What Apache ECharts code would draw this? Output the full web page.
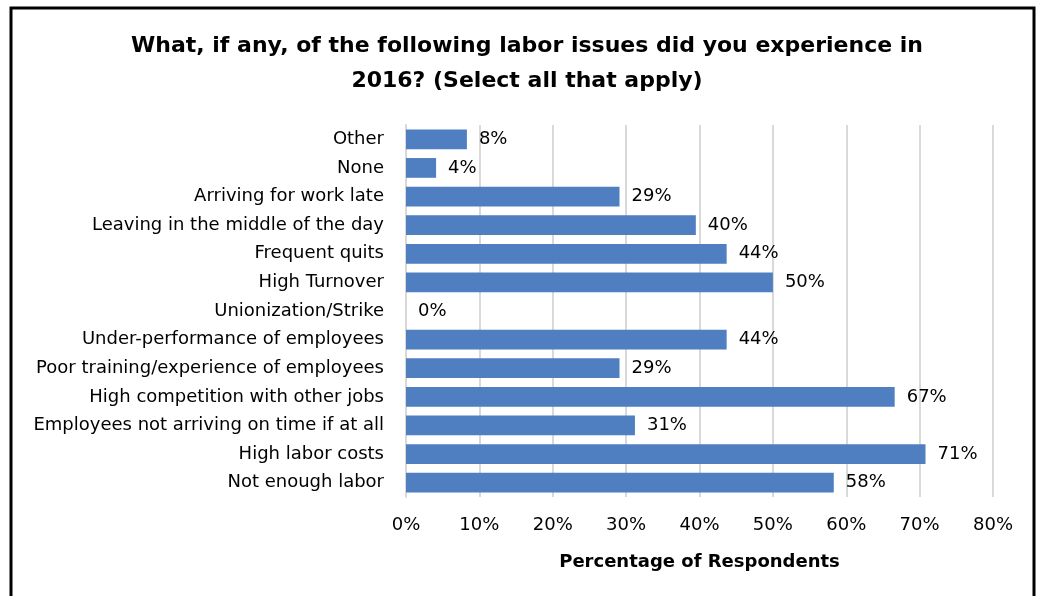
<!DOCTYPE html>
<html>
<head>
<meta charset="utf-8">
<script src="https://cdn.jsdelivr.net/npm/echarts@6/dist/echarts.min.js"></script>
<style>
html,body{margin:0;padding:0;background:#fff;}
#chart{width:1041px;height:596px;}
</style>
</head>
<body>
<div id="chart"></div>
<script>
var categories = [
  "Other",
  "None",
  "Arriving for work late",
  "Leaving in the middle of the day",
  "Frequent quits",
  "High Turnover",
  "Unionization/Strike",
  "Under-performance of employees",
  "Poor training/experience of employees",
  "High competition with other jobs",
  "Employees not arriving on time if at all",
  "High labor costs",
  "Not enough labor"
];
var values = [8.3, 4.1, 29.1, 39.5, 43.7, 50.0, 0, 43.7, 29.1, 66.6, 31.2, 70.8, 58.3];
var xTicks = [0, 10, 20, 30, 40, 50, 60, 70, 80];

var chart = echarts.init(document.getElementById('chart'));
var font = '"DejaVu Sans", sans-serif';
chart.setOption({
  animation: false,
  textStyle: { fontFamily: font },
  title: {
    text: 'What, if any, of the following labor issues did you experience in\n2016? (Select all that apply)',
    left: 522,
    textAlign: 'center',
    top: 24,
    textStyle: { fontFamily: font, fontSize: 22, fontWeight: 'bold', color: '#000', lineHeight: 35 }
  },
  graphic: [{
    type: 'rect',
    shape: { x: 11, y: 8, width: 1023, height: 600 },
    style: { fill: 'none', stroke: '#000', lineWidth: 3 },
    silent: true
  }],
  grid: { left: 406, right: 48, top: 125, bottom: 99, containLabel: false },
  xAxis: {
    type: 'value',
    min: xTicks[0],
    max: xTicks[xTicks.length - 1],
    interval: 10,
    axisLine: { show: false },
    axisTick: { show: false },
    splitLine: { lineStyle: { color: '#d9d9d9', width: 2 } },
    axisLabel: { formatter: function (v) { return v + '%'; }, color: '#000', fontSize: 18, margin: 19, fontFamily: font },
    name: 'Percentage of Respondents',
    nameLocation: 'middle',
    nameGap: 56,
    nameTextStyle: { color: '#000', fontSize: 18, fontWeight: 'bold', fontFamily: font }
  },
  yAxis: {
    type: 'category',
    data: categories,
    inverse: true,
    axisLine: { lineStyle: { color: '#d9d9d9', width: 2 } },
    axisTick: { show: false },
    axisLabel: { color: '#000', fontSize: 18, margin: 22, fontFamily: font }
  },
  series: [{
    type: 'bar',
    data: values,
    barCategoryGap: '31%',
    itemStyle: { color: '#4f7ec1' },
    label: {
      show: true,
      position: 'right',
      distance: 12,
      color: '#000',
      fontSize: 18,
      fontFamily: font,
      formatter: function (p) { return Math.round(p.value) + '%'; }
    }
  }]
});
</script>
</body>
</html>
